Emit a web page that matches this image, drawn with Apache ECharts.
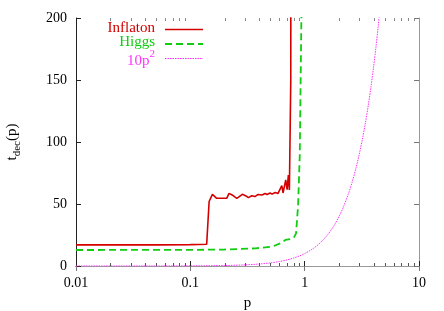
<!DOCTYPE html>
<html>
<head>
<meta charset="utf-8">
<script src="https://cdn.jsdelivr.net/npm/echarts@6/dist/echarts.min.js"></script>
<style>html,body{margin:0;padding:0;background:#fff}#c{width:444px;height:311px}</style>
</head>
<body>
<div id="c"></div>
<script>
// ---- data ----
const seriesNames = ['Inflaton', 'Higgs', '10p²'];
const inflatonP = [0.01, 0.05, 0.1, 0.139, 0.146, 0.156, 0.170, 0.208, 0.218, 0.232, 0.255, 0.285, 0.307, 0.322, 0.345, 0.368, 0.391, 0.424, 0.450, 0.469, 0.498, 0.519, 0.551, 0.585, 0.609, 0.631, 0.647, 0.683, 0.702, 0.720, 0.735, 0.748, 0.756, 0.760];
const inflatonT = [17, 17, 17.2, 17.6, 52, 57.8, 54.6, 54.6, 58.6, 57.3, 54.6, 57.8, 56.5, 55.1, 56.7, 56.0, 57.7, 57.3, 58.5, 57.7, 58.9, 58.0, 59.3, 58.5, 59.3, 64.8, 58.9, 69.4, 61.5, 73.4, 61.3, 62, 150, 400];
const higgsP = [0.01, 0.1, 0.2, 0.37, 0.52, 0.613, 0.678, 0.75, 0.803, 0.841, 0.876, 0.906, 0.936, 0.95];
const higgsT = [12.9, 13.0, 13.3, 14.2, 15.6, 18.3, 21.0, 21.8, 22.8, 26.3, 49, 89.5, 200, 300];
const fitP = [0.01, 0.02, 0.05, 0.1, 0.2, 0.3, 0.4, 0.5, 0.6, 0.7, 0.8, 0.9, 1, 1.2, 1.4, 1.6, 1.8, 2, 2.2, 2.4, 2.6, 2.8, 3, 3.2, 3.4, 3.6, 3.8, 4, 4.2, 4.4, 4.6];
const fitT = [0.001, 0.004, 0.025, 0.1, 0.4, 0.9, 1.6, 2.5, 3.6, 4.9, 6.4, 8.1, 10, 14.4, 19.6, 25.6, 32.4, 40, 48.4, 57.6, 67.6, 78.4, 90, 102.4, 115.6, 129.6, 144.4, 160, 176.4, 193.6, 211.6];
const minorTickP = [0.02, 0.03, 0.04, 0.05, 0.06, 0.07, 0.08, 0.09, 0.2, 0.3, 0.4, 0.5, 0.6, 0.7, 0.8, 0.9, 2, 3, 4, 5, 6, 7, 8, 9];
const xLabels = {0.01: '0.01', 0.1: '0.1', 1: '1', 10: '10'};

const FONT = '"Liberation Serif", "DejaVu Serif", serif';
const RED = '#d40000', GREEN = '#11cc11', MAG = '#ff33ff';

const zip = (a, b) => a.map((v, i) => [v, b[i]]);

const chart = echarts.init(document.getElementById('c'), null, {renderer: 'canvas'});
const grid = {left: 76, right: 25, top: 18, bottom: 45, containLabel: false, outerBoundsMode: 'none'};

const option = {
  animation: false,
  backgroundColor: '#fff',
  grid: grid,
  xAxis: [{
    type: 'log', logBase: 10, min: 0.01, max: 10,
    name: 'p', nameLocation: 'middle', nameGap: 30,
    nameTextStyle: {fontFamily: FONT, fontSize: 15, color: '#000'},
    axisLine: {lineStyle: {color: '#222', width: 1}},
    axisTick: {inside: true, length: 5, lineStyle: {color: '#222'}},
    axisLabel: {fontFamily: FONT, fontSize: 14, color: '#000', margin: 10,
      formatter: v => xLabels[v] !== undefined ? xLabels[v] : (+v).toString()},
    splitLine: {show: false}
  }, {
    type: 'log', logBase: 10, min: 0.01, max: 10, position: 'top',
    axisLine: {lineStyle: {color: '#999', width: 1}},
    axisTick: {inside: true, length: 5, lineStyle: {color: '#777'}},
    axisLabel: {show: false}, splitLine: {show: false}
  }],
  yAxis: [{
    type: 'value', min: 0, max: 200, interval: 50,
    name: '{a|t}{s|dec}{a|(p)}', nameLocation: 'middle', nameGap: 53, nameRotate: 90,
    nameTextStyle: {fontFamily: FONT, color: '#000',
      rich: {
        a: {fontFamily: FONT, fontSize: 15, color: '#000', lineHeight: 22, verticalAlign: 'middle'},
        s: {fontFamily: FONT, fontSize: 11, color: '#000', lineHeight: 22, verticalAlign: 'bottom'}
      }},
    axisLine: {show: true, lineStyle: {color: '#222', width: 1}},
    axisTick: {show: true, inside: true, length: 5, lineStyle: {color: '#222'}},
    axisLabel: {fontFamily: FONT, fontSize: 14, color: '#000', margin: 9},
    splitLine: {show: false}
  }, {
    type: 'value', min: 0, max: 200, interval: 50, position: 'right',
    axisLine: {show: true, lineStyle: {color: '#999', width: 1}},
    axisTick: {show: true, inside: true, length: 5, lineStyle: {color: '#777'}},
    axisLabel: {show: false}, splitLine: {show: false}
  }],
  series: [
    {
      name: seriesNames[0], type: 'line', data: zip(inflatonP, inflatonT),
      showSymbol: false, symbol: 'none', z: 5,
      lineStyle: {color: RED, width: 1.6}
    },
    {
      name: seriesNames[1], type: 'line', data: zip(higgsP, higgsT),
      showSymbol: false, symbol: 'none', z: 4,
      lineStyle: {color: GREEN, width: 1.8, type: [7, 4]}
    },
    {
      name: seriesNames[2], type: 'line', data: zip(fitP, fitT),
      showSymbol: false, symbol: 'none', smooth: 0.3, z: 3,
      lineStyle: {color: MAG, width: 1, type: [1.5, 1]}
    },
    {
      type: 'custom', data: minorTickP.map(p => [p, 0]), silent: true, clip: false, z: 6,
      renderItem: function (params, api) {
        const x = Math.round(api.coord([api.value(0), 0])[0]) + 0.5;
        const cs = params.coordSys;
        const yb = cs.y + cs.height, yt = cs.y;
        return {
          type: 'group', children: [
            {type: 'line', shape: {x1: x, y1: yb, x2: x, y2: yb - 3}, style: {stroke: '#555', lineWidth: 1}},
            {type: 'line', shape: {x1: x, y1: yt, x2: x, y2: yt + 3}, style: {stroke: '#888', lineWidth: 1}}
          ]
        };
      }
    }
  ],
  graphic: [
    {type: 'text', right: 444 - 155, top: 21, style: {text: seriesNames[0], font: '15px ' + FONT, fill: RED}},
    {type: 'line', shape: {x1: 165, y1: 29.5, x2: 203, y2: 29.5}, style: {stroke: RED, lineWidth: 1.6}},
    {type: 'text', right: 444 - 155, top: 35, style: {text: seriesNames[1], font: '15px ' + FONT, fill: GREEN}},
    {type: 'line', shape: {x1: 165, y1: 44, x2: 203, y2: 44}, style: {stroke: GREEN, lineWidth: 1.8, lineDash: [7, 4]}},
    {type: 'text', right: 444 - 155, top: 49, style: {
      text: '{a|10p}{s|2}', font: '15px ' + FONT, fill: MAG,
      rich: {
        a: {fontFamily: FONT, fontSize: 15, fill: MAG, lineHeight: 20, verticalAlign: 'bottom'},
        s: {fontFamily: FONT, fontSize: 11, fill: MAG, lineHeight: 20, verticalAlign: 'top'}
      }}},
    {type: 'line', shape: {x1: 165, y1: 58.5, x2: 203, y2: 58.5}, style: {stroke: MAG, lineWidth: 1, lineDash: [1.5, 1]}}
  ]
};
chart.setOption(option);
</script>
</body>
</html>
